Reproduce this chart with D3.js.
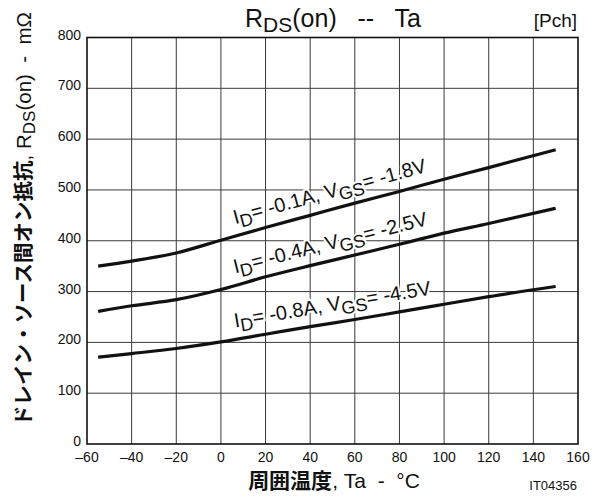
<!DOCTYPE html>
<html>
<head>
<meta charset="utf-8">
<script src="https://cdn.jsdelivr.net/npm/d3@7"></script>
<style>
  body { margin: 0; background: #fff; }
  svg { display: block; font-family: "Liberation Sans", Arial, sans-serif; }
  text { white-space: pre; }
</style>
</head>
<body>
<div id="chart"></div>
<script>
const temps = [-55, -40, -20, 0, 20, 40, 60, 80, 100, 120, 150];
const rdsId01 = [350, 360, 376, 401, 426, 450, 474, 497, 521, 544, 579];
const rdsId04 = [261, 272, 284, 304, 329, 351, 372, 393, 415, 434, 464];
const rdsId08 = [171, 178, 188, 201, 216, 231, 245, 260, 275, 290, 310];
const xTicks = [-60, -40, -20, 0, 20, 40, 60, 80, 100, 120, 140, 160];
const yTicks = [0, 100, 200, 300, 400, 500, 600, 700, 800];
const seriesLabels = [
  { id: "-0.1A", vgs: "-1.8V" },
  { id: "-0.4A", vgs: "-2.5V" },
  { id: "-0.8A", vgs: "-4.5V" }
];

const width = 600, height = 499;
const pLeft = 87, pRight = 578, pTop = 37.5, pBottom = 444;

const svg = d3.select("#chart").append("svg")
  .attr("width", width)
  .attr("height", height);

const x = d3.scaleLinear().domain([-60, 160]).range([pLeft, pRight]);
const y = d3.scaleLinear().domain([0, 800]).range([pBottom, pTop]);

// grid
svg.append("g").selectAll("line")
  .data(xTicks.slice(1, -1))
  .enter().append("line")
  .attr("x1", d => x(d)).attr("x2", d => x(d))
  .attr("y1", pTop).attr("y2", pBottom)
  .attr("stroke", "#3a3a3a").attr("stroke-width", 1);

svg.append("g").selectAll("line")
  .data(yTicks.slice(1, -1))
  .enter().append("line")
  .attr("x1", pLeft).attr("x2", pRight)
  .attr("y1", d => y(d)).attr("y2", d => y(d))
  .attr("stroke", "#3a3a3a").attr("stroke-width", 1);

// frame
svg.append("rect")
  .attr("x", pLeft).attr("y", pTop)
  .attr("width", pRight - pLeft).attr("height", pBottom - pTop)
  .attr("fill", "none").attr("stroke", "#111").attr("stroke-width", 1.6);

// tick labels
svg.append("g").selectAll("text")
  .data(xTicks)
  .enter().append("text")
  .attr("x", d => x(d)).attr("y", pBottom + 18)
  .attr("text-anchor", "middle")
  .attr("font-size", 14).attr("fill", "#111")
  .text(d => d < 0 ? "\u2013" + Math.abs(d) : d);

svg.append("g").selectAll("text")
  .data(yTicks)
  .enter().append("text")
  .attr("x", pLeft - 6).attr("y", d => y(d) + 2)
  .attr("text-anchor", "end")
  .attr("font-size", 14).attr("fill", "#111")
  .text(d => d);

// curves
const line = d3.line()
  .x(d => x(d[0]))
  .y(d => y(d[1]))
  .curve(d3.curveMonotoneX);

const series = [rdsId01, rdsId04, rdsId08];
series.forEach((vals, i) => {
  const pts = temps.map((t, k) => [t, vals[k]]);
  svg.append("path")
    .datum(pts)
    .attr("d", line)
    .attr("fill", "none")
    .attr("stroke", "#111")
    .attr("stroke-width", 3.2);

  // label sits above the curve, rotated with it
  const lab = seriesLabels[i];
  const valAt = d3.scaleLinear().domain(temps).range(vals);
  const t0 = 6.4, t1 = 92;
  const ang = Math.atan2(y(valAt(t1)) - y(valAt(t0)), x(t1) - x(t0)) * 180 / Math.PI;
  const tx = x(t0), ty = y(valAt(t0)) - 12;
  const txt = svg.append("text")
    .attr("transform", `translate(${tx},${ty}) rotate(${ang})`)
    .attr("font-size", 20)
    .attr("fill", "#111")
    .attr("stroke", "#fff").attr("stroke-width", 4)
    .attr("paint-order", "stroke");
  txt.append("tspan").text("I");
  txt.append("tspan").attr("font-size", 18).attr("dy", 5).text("D");
  txt.append("tspan").attr("dy", -5).text("= " + lab.id + ", V");
  txt.append("tspan").attr("font-size", 18).attr("dy", 5).text("GS");
  txt.append("tspan").attr("dy", -5).text("= " + lab.vgs);
});

// title
const title = svg.append("text")
  .attr("x", 245).attr("y", 27)
  .attr("font-size", 25).attr("fill", "#111");
title.append("tspan").text("R");
title.append("tspan").attr("font-size", 21).attr("dy", 5).text("DS");
title.append("tspan").attr("dy", -5).text("(on)   --   Ta");

svg.append("text")
  .attr("x", 577).attr("y", 27)
  .attr("text-anchor", "end")
  .attr("font-size", 19).attr("fill", "#111")
  .text("[Pch]");

// y axis label
const yl = svg.append("text")
  .attr("transform", `translate(31,219) rotate(-90)`)
  .attr("text-anchor", "middle")
  .attr("font-size", 20.5).attr("fill", "#111");
yl.append("tspan").attr("font-family", "Noto Sans CJK JP").attr("font-weight", "bold")
  .text("ドレイン・ソース間オン抵抗");
yl.append("tspan").text(", R");
yl.append("tspan").attr("font-size", 17).attr("dy", 4).text("DS");
yl.append("tspan").attr("dy", -4).text("(on)  -  m\u03A9");

// x axis label
const xl = svg.append("text")
  .attr("x", 334).attr("y", 488)
  .attr("text-anchor", "middle")
  .attr("font-size", 21).attr("fill", "#111");
xl.append("tspan").attr("font-family", "Noto Sans CJK JP").attr("font-weight", "bold")
  .text("周囲温度");
xl.append("tspan").text(", Ta  -  \u00B0C");

svg.append("text")
  .attr("x", 577).attr("y", 490)
  .attr("text-anchor", "end")
  .attr("font-size", 13).attr("fill", "#111")
  .text("IT04356");
</script>
</body>
</html>
